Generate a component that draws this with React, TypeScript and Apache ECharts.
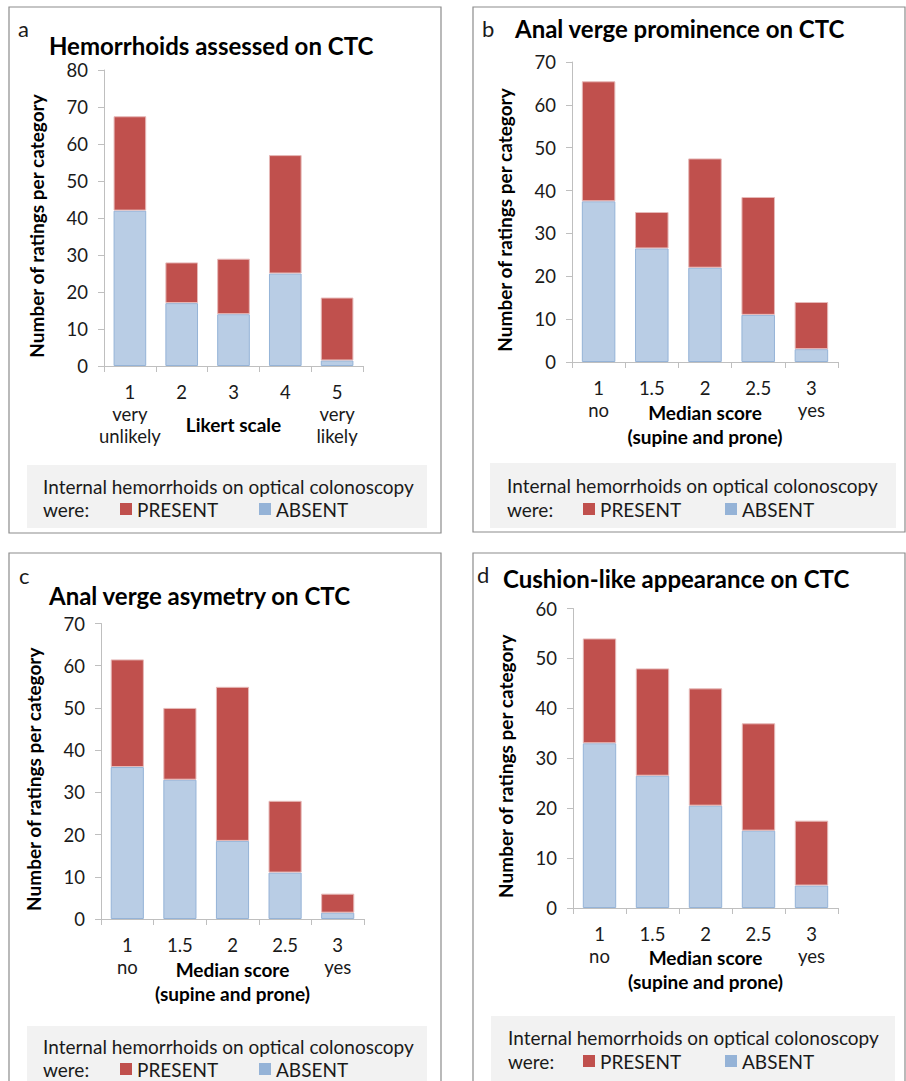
import React, { useEffect, useRef } from "react";
import * as echarts from "echarts";

// ---- data ----
const likertCategories = ["1\nvery\nunlikely", "2", "3", "4", "5\nvery\nlikely"];
const medianCategories = ["1\nno", "1.5", "2", "2.5", "3\nyes"];

const aAbsent = [42, 17, 14, 25, 1.5];
const aPresent = [25.5, 11, 15, 32, 17];

const bAbsent = [37.5, 26.5, 22, 11, 3];
const bPresent = [28, 8.5, 25.5, 27.5, 11];

const cAbsent = [36, 33, 18.5, 11, 1.5];
const cPresent = [25.5, 17, 36.5, 17, 4.5];

const dAbsent = [33, 26.5, 20.5, 15.5, 4.5];
const dPresent = [21, 21.5, 23.5, 21.5, 13];

const titles = [
  "Hemorrhoids assessed on CTC",
  "Anal verge prominence on CTC",
  "Anal verge asymetry on CTC",
  "Cushion-like appearance on CTC",
];
const letters = ["a", "b", "c", "d"];
const xNames = ["Likert scale", "Median score\n(supine and prone)", "Median score\n(supine and prone)", "Median score\n(supine and prone)"];
const yMax = [80, 70, 70, 60];
const yName = "Number of ratings per category";
const legendHeader = "Internal hemorrhoids on optical colonoscopy";
const legendLead = "were:";

const RED = "#C0504D";
const BLUE = "#B9CDE5";
const BLUE_DARK = "#95B3D7";
const FONT = "Lato";

// layout per panel
const panels = [
  {
    grid: { left: 104, top: 70, width: 259, height: 296 },
    border: { x: 9, y: 7, w: 432, h: 526 },
    letter: { x: 18, y: 28 },
    title: { left: 49, top: 32 },
    box: { x: 27, y: 465, w: 400, h: 63 },
    textX: 43, line1: 486, line2: 509, redX: 120, blueX: 259,
    nameGap: 46,
  },
  {
    grid: { left: 572, top: 62, width: 266, height: 300 },
    border: { x: 473, y: 7, w: 432, h: 525 },
    letter: { x: 482, y: 28 },
    title: { left: 515, top: 15 },
    box: { x: 490, y: 463, w: 406, h: 65 },
    textX: 507, line1: 485, line2: 509, redX: 583, blueX: 725,
    nameGap: 38,
  },
  {
    grid: { left: 101, top: 623.5, width: 263, height: 295.5 },
    border: { x: 9, y: 553, w: 432, h: 560 },
    letter: { x: 19, y: 575 },
    title: { left: 49, top: 582.5 },
    box: { x: 27, y: 1026, w: 400, h: 80 },
    textX: 43, line1: 1046, line2: 1069, redX: 120, blueX: 259,
    nameGap: 38,
  },
  {
    grid: { left: 573, top: 608.5, width: 265, height: 299.5 },
    border: { x: 473, y: 553, w: 432, h: 560 },
    letter: { x: 477, y: 574 },
    title: { left: 503, top: 565 },
    box: { x: 491, y: 1016, w: 404, h: 90 },
    textX: 508, line1: 1037, line2: 1061, redX: 583, blueX: 725,
    nameGap: 37,
  },
];

const absentSets = [aAbsent, bAbsent, cAbsent, dAbsent];
const presentSets = [aPresent, bPresent, cPresent, dPresent];
const categorySets = [likertCategories, medianCategories, medianCategories, medianCategories];

export default function App() {
  const ref = useRef<HTMLDivElement>(null);

  useEffect(() => {
    if (!ref.current) return;
    const chart = echarts.init(ref.current, undefined, { renderer: "svg" });

    const axisLineStyle = { color: "#BFBFBF", width: 1 };

    const grids = panels.map((p) => ({ ...p.grid, containLabel: false }));

    const xAxes = panels.map((p, i) => ({
      type: "category",
      gridIndex: i,
      data: categorySets[i],
      axisLine: { lineStyle: axisLineStyle },
      axisTick: { show: true, length: 6, lineStyle: axisLineStyle },
      axisLabel: {
        interval: 0,
        margin: 15,
        fontFamily: FONT,
        fontSize: 18.5,
        lineHeight: 22,
        color: "#1a1a1a",
        verticalAlign: "top",
      },
      name: xNames[i],
      nameLocation: "middle",
      nameGap: p.nameGap,
      nameMoveOverlap: false,
      nameTextStyle: {
        fontFamily: FONT,
        fontSize: 19,
        fontWeight: "bold",
        color: "#000",
        lineHeight: 24,
        verticalAlign: "top",
      },
    }));

    const yAxes = panels.map((p, i) => ({
      type: "value",
      gridIndex: i,
      min: 0,
      max: yMax[i],
      interval: 10,
      axisLine: { show: true, lineStyle: axisLineStyle },
      axisTick: { show: true, length: 6, lineStyle: axisLineStyle },
      splitLine: { show: false },
      axisLabel: {
        margin: 16,
        fontFamily: FONT,
        fontSize: 18.5,
        color: "#1a1a1a",
      },
      name: yName,
      nameLocation: "middle",
      nameGap: 58,
      nameMoveOverlap: false,
      nameTextStyle: {
        fontFamily: FONT,
        fontSize: 19,
        fontWeight: "bold",
        color: "#000",
        padding: [0, 16, 0, 0],
      },
    }));

    const series: any[] = [];
    panels.forEach((p, i) => {
      series.push({
        name: "ABSENT",
        type: "bar",
        xAxisIndex: i,
        yAxisIndex: i,
        stack: "s" + i,
        barWidth: "63%",
        data: absentSets[i],
        itemStyle: { color: BLUE, borderColor: BLUE_DARK, borderWidth: 1 },
      });
      series.push({
        name: "PRESENT",
        type: "bar",
        xAxisIndex: i,
        yAxisIndex: i,
        stack: "s" + i,
        barWidth: "63%",
        data: presentSets[i],
        itemStyle: { color: RED, borderColor: "#E6B9B8", borderWidth: 1 },
      });
    });

    const legendText = { fontFamily: FONT, fontSize: 19, color: "#1a1a1a", lineHeight: 20 };
    const legends: any[] = [];
    panels.forEach((p) => {
      legends.push({
        data: [{ name: "PRESENT", itemStyle: { color: RED, borderWidth: 0 } }],
        left: p.redX,
        top: p.line2 - 10,
        padding: 0,
        icon: "rect",
        itemWidth: 12,
        itemHeight: 12,
        textStyle: legendText,
        selectedMode: false,
      });
      legends.push({
        data: [{ name: "ABSENT", itemStyle: { color: BLUE_DARK, borderWidth: 0 } }],
        left: p.blueX,
        top: p.line2 - 10,
        padding: 0,
        icon: "rect",
        itemWidth: 12,
        itemHeight: 12,
        textStyle: legendText,
        selectedMode: false,
      });
    });

    const titleOpts = panels.map((p, i) => ({
      text: titles[i],
      left: p.title.left,
      top: p.title.top,
      padding: 0,
      textStyle: {
        fontFamily: FONT,
        fontWeight: "bold",
        fontSize: 24,
        color: "#000",
        lineHeight: 26,
      },
    }));

    const graphics: any[] = [];
    panels.forEach((p, i) => {
      graphics.push({
        type: "rect",
        z: -10,
        shape: { x: p.border.x, y: p.border.y, width: p.border.w, height: p.border.h },
        style: { fill: "#fff", stroke: "#8C8C8C", lineWidth: 1.2 },
        silent: true,
      });
      graphics.push({
        type: "rect",
        z: -5,
        shape: { x: p.box.x, y: p.box.y, width: p.box.w, height: p.box.h },
        style: { fill: "#F2F2F2" },
        silent: true,
      });
      graphics.push({
        type: "text",
        x: p.letter.x,
        y: p.letter.y,
        style: {
          text: letters[i],
          fontFamily: FONT,
          fontSize: 22,
          fill: "#1a1a1a",
          verticalAlign: "middle",
        },
        silent: true,
      });
      graphics.push({
        type: "text",
        x: p.textX,
        y: p.line1,
        style: {
          text: legendHeader,
          fontFamily: FONT,
          fontSize: 19,
          fill: "#1a1a1a",
          verticalAlign: "middle",
        },
        silent: true,
      });
      graphics.push({
        type: "text",
        x: p.textX,
        y: p.line2,
        style: {
          text: legendLead,
          fontFamily: FONT,
          fontSize: 19,
          fill: "#1a1a1a",
          verticalAlign: "middle",
        },
        silent: true,
      });
    });

    chart.setOption({
      animation: false,
      backgroundColor: "#fff",
      title: titleOpts,
      grid: grids,
      xAxis: xAxes,
      yAxis: yAxes,
      legend: legends,
      graphic: { elements: graphics },
      series,
    });

    return () => chart.dispose();
  }, []);

  return (
    <div
      ref={ref}
      style={{ position: "absolute", left: 0, top: 0, width: 906, height: 1081 }}
    />
  );
}
